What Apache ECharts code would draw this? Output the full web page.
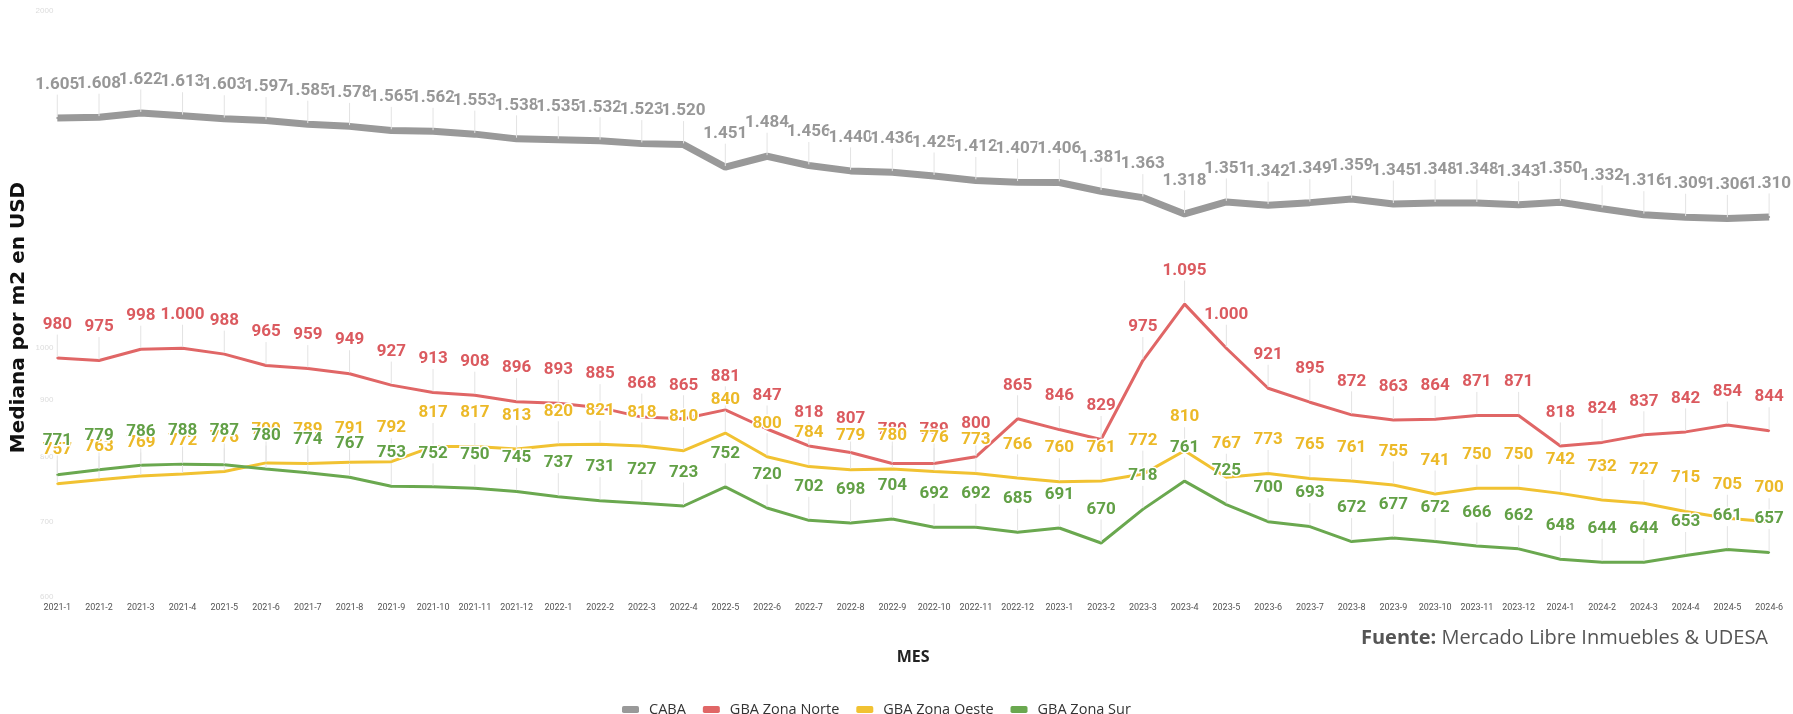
<!DOCTYPE html>
<html><head><meta charset="utf-8">
<script src="https://cdn.jsdelivr.net/npm/echarts@6/dist/echarts.min.js"></script>
<style>html,body{margin:0;padding:0;background:#fff}#c{width:1793px;height:714px}</style>
</head><body><div id="c"></div>
<script>
const categories = ['2021-1','2021-2','2021-3','2021-4','2021-5','2021-6','2021-7','2021-8','2021-9','2021-10','2021-11','2021-12',
  '2022-1','2022-2','2022-3','2022-4','2022-5','2022-6','2022-7','2022-8','2022-9','2022-10','2022-11','2022-12',
  '2023-1','2023-2','2023-3','2023-4','2023-5','2023-6','2023-7','2023-8','2023-9','2023-10','2023-11','2023-12',
  '2024-1','2024-2','2024-3','2024-4','2024-5','2024-6'];
const caba = [1605,1608,1622,1613,1603,1597,1585,1578,1565,1562,1553,1538,
  1535,1532,1523,1520,1451,1484,1456,1440,1436,1425,1412,1407,
  1406,1381,1363,1318,1351,1342,1349,1359,1345,1348,1348,1343,
  1350,1332,1316,1309,1306,1310];
const zonaNorte = [980,975,998,1000,988,965,959,949,927,913,908,896,
  893,885,868,865,881,847,818,807,789,789,800,865,
  846,829,975,1095,1000,921,895,872,863,864,871,871,
  818,824,837,842,854,844];
const zonaOeste = [757,763,769,772,776,790,789,791,792,817,817,813,
  820,821,818,810,840,800,784,779,780,776,773,766,
  760,761,772,810,767,773,765,761,755,741,750,750,
  742,732,727,715,705,700];
const zonaSur = [771,779,786,788,787,780,774,767,753,752,750,745,
  737,731,727,723,752,720,702,698,704,692,692,685,
  691,670,718,761,725,700,693,672,677,672,666,662,
  648,644,644,653,661,657];
const yTickValues = [600,700,800,900,1000,2000];

function fmt(v){ return String(v).replace(/\B(?=(\d{3})+(?!\d))/g,'.'); }

function mk(name, data, color, width, labelColor){
  return {
    name, type:'line', data, symbol:'circle', symbolSize:2, showSymbol:true,
    lineStyle:{color, width}, itemStyle:{color},
    label:{show:true, position:'top', distance:5, formatter:p=>fmt(p.value),
      color:labelColor, fontFamily:'Roboto', fontWeight:'bold', fontSize:17,
      textBorderColor:'#fff', textBorderWidth:3},
    labelLine:{show:true, lineStyle:{color:'#e3e3e3', width:1}},
    labelLayout:{dy:-19},
    emphasis:{disabled:true}
  };
}

const chart = echarts.init(document.getElementById('c'), null, {renderer:'canvas'});
chart.setOption({
  animation:false,
  backgroundColor:'#fff',
  grid:{left:36.4, right:3, top:11.1, bottom:117.3},
  legend:{left:617, top:697, itemWidth:17, itemHeight:7, itemGap:17, icon:'roundRect',
    textStyle:{fontFamily:'Open Sans', fontSize:14.5, color:'#333', padding:[0,0,0,5]},
    data:['CABA','GBA Zona Norte','GBA Zona Oeste','GBA Zona Sur']},
  xAxis:{type:'category', data:categories, boundaryGap:true,
    axisLine:{show:false}, axisTick:{show:false}, splitLine:{show:false},
    axisLabel:{interval:0, fontSize:9, color:'#555', fontFamily:'Roboto', margin:7},
    name:'MES', nameLocation:'middle', nameGap:53,
    nameTextStyle:{fontFamily:'Open Sans', fontWeight:'bold', fontSize:16, color:'#222'}},
  yAxis:{type:'log', logBase:10, min:600, max:2000,
    axisLine:{show:false}, axisTick:{show:false}, splitLine:{show:false},
    axisLabel:{fontSize:8, color:'#dcdcdc', margin:-17, customValues:yTickValues,
      formatter:v=>String(v)}},
  graphic:[
    {type:'text', x:18.5, y:317.5, rotation:Math.PI/2,
      style:{text:'Mediana por m2 en USD', align:'center', verticalAlign:'middle',
        font:'bold 20px "DejaVu Sans"', fill:'#111'}},
    {type:'text', right:25, top:628,
      style:{text:'{b|Fuente:} Mercado Libre Inmuebles & UDESA', fill:'#555',
        font:'20px "Open Sans"',
        rich:{b:{fontWeight:'bold', fontSize:20, fontFamily:'Open Sans', fill:'#555'}}}}
  ],
  series:[
    mk('CABA', caba, '#999999', 7, '#979797'),
    mk('GBA Zona Norte', zonaNorte, '#e06666', 3, '#db5a5f'),
    mk('GBA Zona Oeste', zonaOeste, '#f1c232', 3, '#ecb928'),
    mk('GBA Zona Sur', zonaSur, '#6aa84f', 3, '#62a046')
  ]
});
</script></body></html>
